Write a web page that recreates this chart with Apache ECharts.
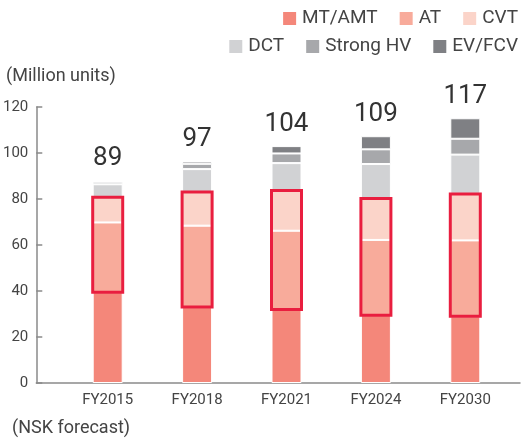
<!DOCTYPE html>
<html>
<head>
<meta charset="utf-8">
<title>Automatic transmissions</title>
<script src="https://cdn.jsdelivr.net/npm/echarts@6/dist/echarts.min.js"></script>
<style>
  html, body { margin: 0; padding: 0; background: #fff; }
  #main { width: 530px; height: 445px; }
</style>
</head>
<body>
<div id="main"></div>
<script>
// data (million units)
var years = ['FY2015', 'FY2018', 'FY2021', 'FY2024', 'FY2030'];
var mtAmt = [39.5, 33, 32, 29.5, 29];
var at = [30.3, 35.4, 34.2, 32.7, 33];
var cvt = [11, 14.6, 17.5, 18, 20.2];
var dct = [5.6, 10, 11.9, 15, 17.1];
var strongHv = [1.1, 2.3, 4.2, 6.4, 6.9];
var evFcv = [0.3, 1.0, 3.2, 5.7, 8.9];
var totals = [89, 97, 104, 109, 117];
var yTicks = [0, 20, 40, 60, 80, 100, 120];

var font = 'Roboto, sans-serif';
var txt = '#444';

// red frame around AT + CVT
var boxData = years.map(function (y, i) {
  return [i, mtAmt[i], mtAmt[i] + at[i] + cvt[i]];
});

function seg(name, data, color, extra) {
  var s = {
    name: name,
    type: 'bar',
    stack: 'total',
    xAxisIndex: 1,
    yAxisIndex: 1,
    barWidth: 30,
    data: data,
    itemStyle: { color: color, borderColor: '#fff', borderWidth: 1 }
  };
  for (var k in extra) s[k] = extra[k];
  return s;
}

var chart = echarts.init(document.getElementById('main'));
chart.setOption({
  animation: false,
  textStyle: { fontFamily: font },
  title: [
    { text: '(Million units)', left: 6, top: 67, padding: 0,
      textStyle: { fontSize: 18, fontWeight: 'normal', color: txt, fontFamily: font } },
    { text: '(NSK forecast)', left: 12, top: 419, padding: 0,
      textStyle: { fontSize: 18, fontWeight: 'normal', color: txt, fontFamily: font } }
  ],
  legend: [
    { data: ['MT/AMT', 'AT', 'CVT'], right: 12, top: 9, padding: 0,
      icon: 'rect', itemWidth: 15, itemHeight: 15, itemGap: 20,
      textStyle: { fontSize: 19, color: txt, fontFamily: font } },
    { data: ['DCT', 'Strong HV', 'EV/FCV'], right: 12, top: 37, padding: 0,
      icon: 'rect', itemWidth: 15, itemHeight: 15, itemGap: 20,
      textStyle: { fontSize: 19, color: txt, fontFamily: font } }
  ],
  grid: [
    { left: 36, right: 10, top: 107, bottom: 62 },
    { left: 63, right: 20, top: 107, bottom: 62 }
  ],
  xAxis: [
    { gridIndex: 0, type: 'value', min: 0, max: 1,
      axisLine: { show: true, lineStyle: { color: '#8a8a8a', width: 1.5 } },
      axisTick: { show: false }, axisLabel: { show: false }, splitLine: { show: false } },
    { gridIndex: 1, type: 'category', data: years,
      axisLine: { show: false }, axisTick: { show: false },
      axisLabel: { margin: 10, fontSize: 15, color: txt, fontFamily: font } }
  ],
  yAxis: [
    { gridIndex: 0, type: 'value', min: 0, max: 120, interval: 20,
      axisLine: { show: true, lineStyle: { color: '#8a8a8a', width: 1.5 } },
      axisTick: { show: true, inside: true, length: 6, lineStyle: { color: '#8a8a8a', width: 1.5 } },
      axisLabel: { margin: 8, fontSize: 15, color: txt, fontFamily: font,
        formatter: function (v) { return yTicks.indexOf(v) >= 0 ? String(v) : ''; } },
      splitLine: { show: false } },
    { gridIndex: 1, type: 'value', min: 0, max: 120, interval: 20, show: false }
  ],
  series: [
    seg('MT/AMT', mtAmt, '#f4877a'),
    seg('AT', at, '#f8ab9b'),
    seg('CVT', cvt, '#fbd4c9'),
    seg('DCT', dct, '#d1d2d4'),
    seg('Strong HV', strongHv, '#a7a8ab'),
    seg('EV/FCV', evFcv, '#7f8084', {
      label: {
        show: true, position: 'top', distance: 9,
        fontSize: 26, color: '#333', fontFamily: font,
        formatter: function (p) { return String(totals[p.dataIndex]); }
      }
    }),
    {
      name: 'frame',
      type: 'custom',
      xAxisIndex: 1,
      yAxisIndex: 1,
      z: 5,
      data: boxData,
      renderItem: function (params, api) {
        var lo = api.coord([api.value(0), api.value(1)]);
        var hi = api.coord([api.value(0), api.value(2)]);
        return {
          type: 'rect',
          shape: { x: lo[0] - 15, y: hi[1], width: 30, height: lo[1] - hi[1] },
          style: { fill: 'none', stroke: '#e91e3f', lineWidth: 3 }
        };
      }
    }
  ]
});
</script>
</body>
</html>
